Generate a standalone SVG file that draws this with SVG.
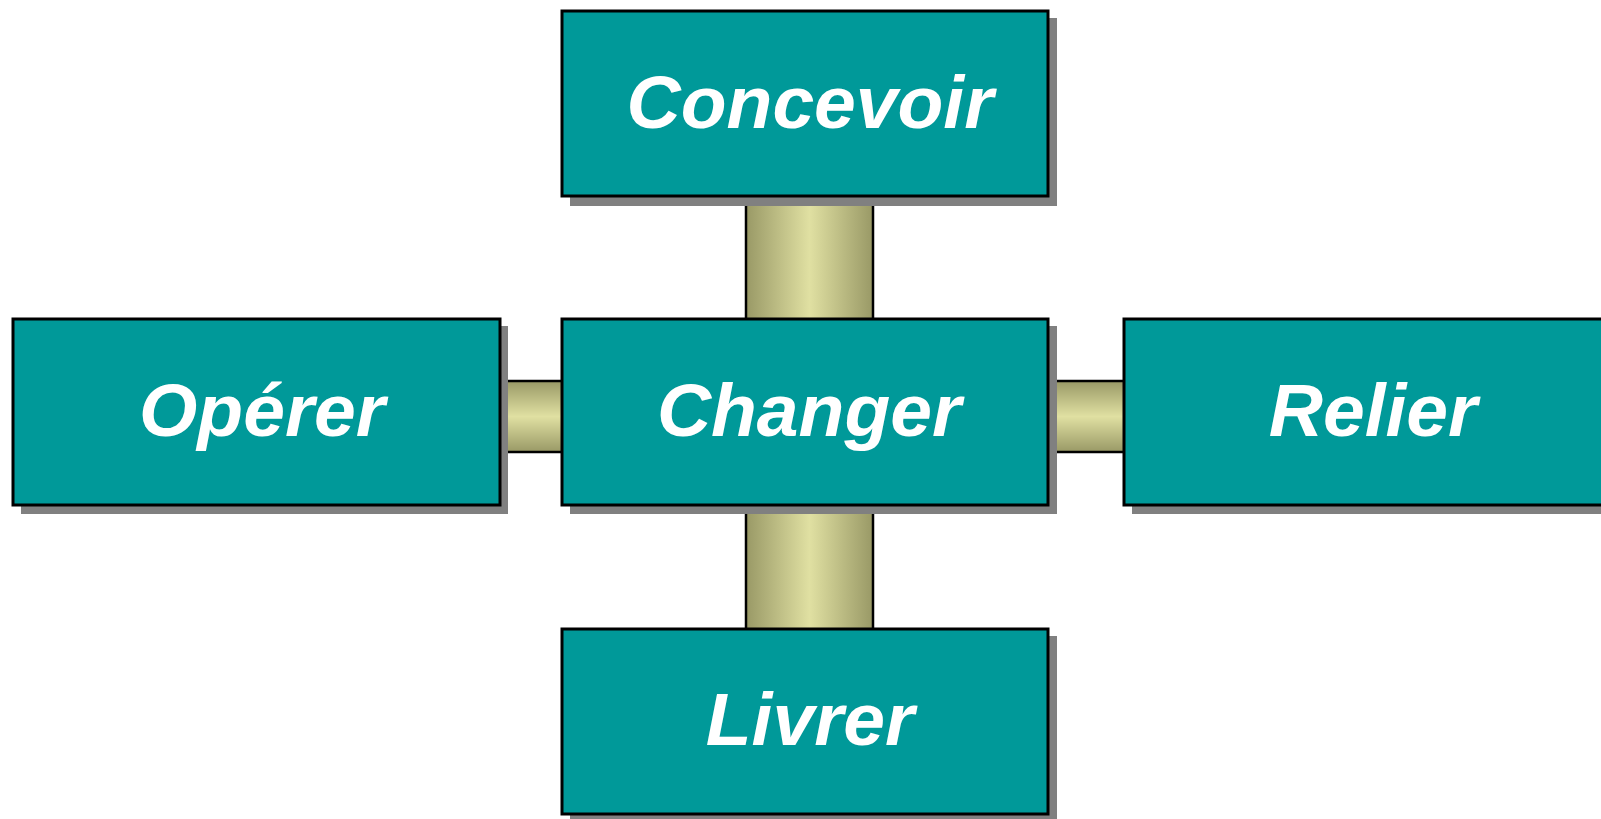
<svg xmlns="http://www.w3.org/2000/svg" width="1601" height="819" viewBox="0 0 1601 819">
<style>
.shadow{fill:#808080}
.box{fill:#009999;stroke:#000;stroke-width:3}
.lbl{font-family:"Liberation Sans",Arial,sans-serif;font-weight:bold;font-style:italic;font-size:75px;fill:#fff;text-anchor:middle}
.conn{stroke:#000;stroke-width:2.5}
</style>
<defs>
<linearGradient id="gv" x1="0" y1="0" x2="1" y2="0">
<stop offset="0" stop-color="#999966"/>
<stop offset="0.5" stop-color="#e0e0a2"/>
<stop offset="1" stop-color="#999966"/>
</linearGradient>
<linearGradient id="gh" x1="0" y1="0" x2="0" y2="1">
<stop offset="0" stop-color="#999966"/>
<stop offset="0.5" stop-color="#e0e0a2"/>
<stop offset="1" stop-color="#999966"/>
</linearGradient>
</defs>
<g id="connectors">
<rect class="conn" x="746" y="190" width="127" height="135" fill="url(#gv)"/>
<rect class="conn" x="746" y="500" width="127" height="135" fill="url(#gv)"/>
<rect class="conn" x="495" y="381" width="72" height="71" fill="url(#gh)"/>
<rect class="conn" x="1043" y="381" width="86" height="71" fill="url(#gh)"/>
</g>
<g id="node-concevoir">
<rect class="shadow" x="570" y="18" width="487" height="188"/>
<rect class="box" x="562" y="11" width="486" height="185"/>
<text class="lbl" x="810" y="128">Concevoir</text>
</g>
<g id="node-operer">
<rect class="shadow" x="21" y="326" width="487" height="188"/>
<rect class="box" x="13" y="319" width="487" height="186"/>
<text class="lbl" x="262" y="436">Opérer</text>
</g>
<g id="node-changer">
<rect class="shadow" x="570" y="326" width="487" height="188"/>
<rect class="box" x="562" y="319" width="486" height="186"/>
<text class="lbl" x="809" y="436">Changer</text>
</g>
<g id="node-relier">
<rect class="shadow" x="1132" y="326" width="487" height="188"/>
<rect class="box" x="1124" y="319" width="487" height="186"/>
<text class="lbl" x="1373" y="436">Relier</text>
</g>
<g id="node-livrer">
<rect class="shadow" x="570" y="636" width="487" height="188"/>
<rect class="box" x="562" y="629" width="486" height="185"/>
<text class="lbl" x="810" y="745">Livrer</text>
</g>
</svg>
